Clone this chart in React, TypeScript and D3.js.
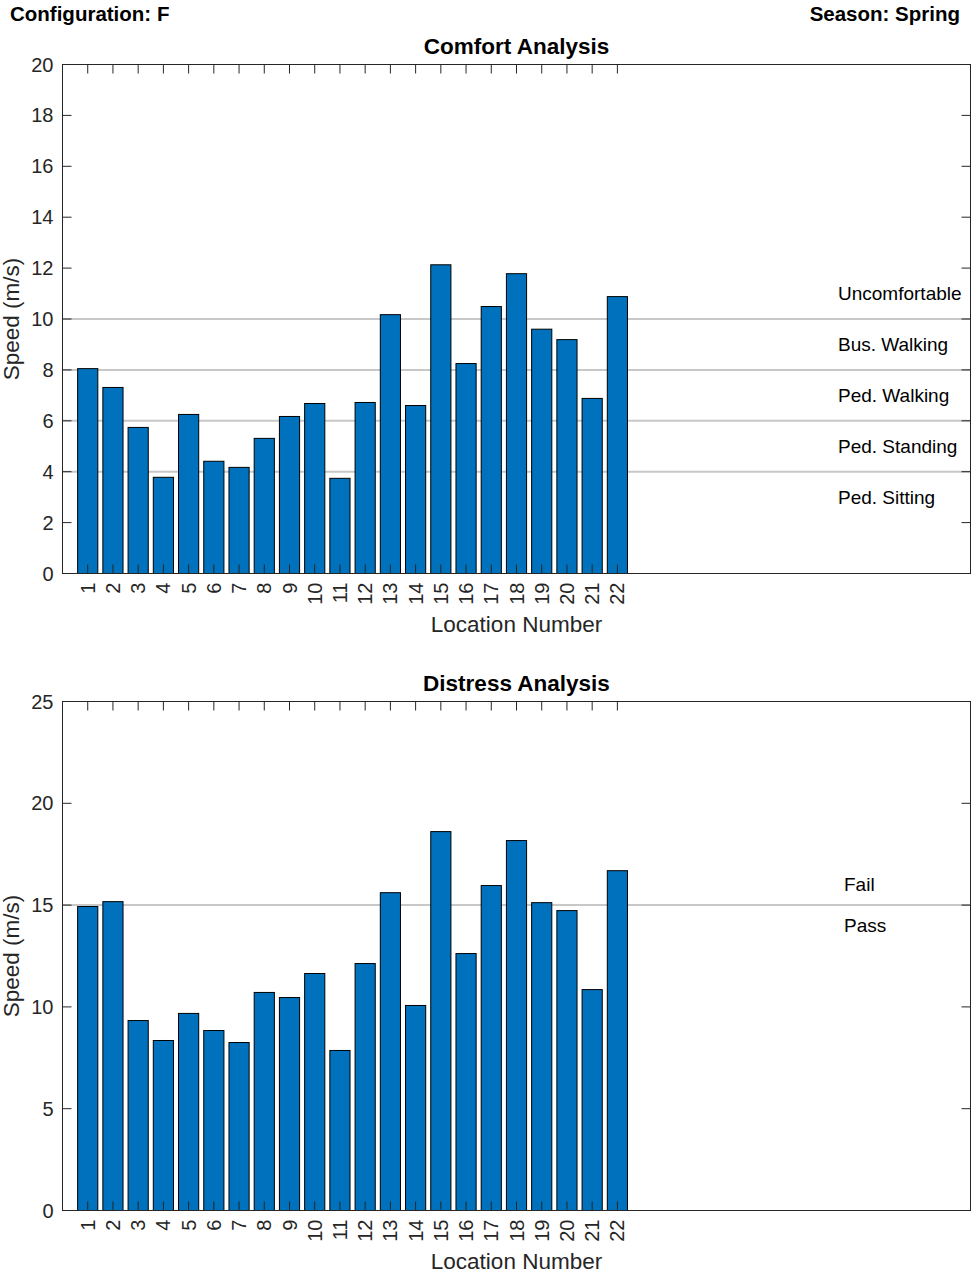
import React from "react";
import * as d3 from "d3";

const locations = d3.range(1, 23);
const comfortSpeeds = [8.05, 7.31, 5.74, 3.78, 6.25, 4.41, 4.17, 5.31, 6.17, 6.68, 3.74, 6.72, 10.17, 6.6, 12.13, 8.25, 10.49, 11.78, 9.6, 9.19, 6.88, 10.88];
const distressSpeeds = [14.93, 15.17, 9.33, 8.35, 9.68, 8.84, 8.25, 10.71, 10.46, 11.64, 7.86, 12.13, 15.61, 10.07, 18.61, 12.62, 15.96, 18.17, 15.12, 14.73, 10.85, 16.69];
const comfortThresholds = [4, 6, 8, 10];
const comfortZones = [
  { label: "Uncomfortable", value: 11 },
  { label: "Bus. Walking", value: 9 },
  { label: "Ped. Walking", value: 7 },
  { label: "Ped. Standing", value: 5 },
  { label: "Ped. Sitting", value: 3 },
];
const distressThresholds = [15];
const distressZones = [
  { label: "Fail", value: 16 },
  { label: "Pass", value: 14 },
];
const comfortTicks = d3.range(0, 21, 2);
const distressTicks = d3.range(0, 26, 5);

const FONT = "'Liberation Sans', Arial, Helvetica, sans-serif";
const AX = "#262626";
const LEFT = 62.5;
const RIGHT = 970.5;

type PanelProps = {
  top: number;
  bottom: number;
  title: string;
  values: number[];
  yMax: number;
  ticks: number[];
  thresholds: number[];
  zones: { label: string; value: number }[];
  zoneX: number;
};

function Panel({ top, bottom, title, values, yMax, ticks, thresholds, zones, zoneX }: PanelProps) {
  const x = d3.scaleLinear().domain([0, 36]).range([LEFT, RIGHT]);
  const y = d3.scaleLinear().domain([0, yMax]).range([bottom, top]);
  const bw = x(0.8) - x(0);
  const tl = 9;
  return (
    <g>
      {thresholds.map((t) => (
        <line key={"g" + t} x1={LEFT} x2={RIGHT} y1={y(t)} y2={y(t)} stroke="#c8c8c8" strokeWidth={2} />
      ))}
      {values.map((v, i) => (
        <rect
          key={i}
          x={x(locations[i]) - bw / 2}
          y={y(v)}
          width={bw}
          height={y(0) - y(v)}
          fill="#0072BD"
          stroke="#000"
          strokeWidth={1}
        />
      ))}
      <rect x={LEFT} y={top} width={RIGHT - LEFT} height={bottom - top} fill="none" stroke={AX} strokeWidth={1} />
      {locations.map((l) => (
        <g key={"xt" + l}>
          <line x1={x(l)} x2={x(l)} y1={top} y2={top + tl} stroke={AX} />
          <line x1={x(l)} x2={x(l)} y1={bottom} y2={bottom - tl} stroke={AX} />
          <text
            transform={`translate(${x(l)},${bottom + 9}) rotate(-90)`}
            textAnchor="end"
            dominantBaseline="central"
            fontSize={20}
            fontFamily={FONT}
            fill={AX}
          >
            {l}
          </text>
        </g>
      ))}
      {ticks.map((t) => (
        <g key={"yt" + t}>
          <line x1={LEFT} x2={LEFT + tl} y1={y(t)} y2={y(t)} stroke={AX} />
          <line x1={RIGHT} x2={RIGHT - tl} y1={y(t)} y2={y(t)} stroke={AX} />
          <text x={LEFT - 9} y={y(t)} textAnchor="end" dominantBaseline="central" fontSize={20} fontFamily={FONT} fill={AX}>
            {t}
          </text>
        </g>
      ))}
      {zones.map((z) => (
        <text key={z.label} x={zoneX} y={y(z.value)} dominantBaseline="central" fontSize={19} fontFamily={FONT} fill="#000">
          {z.label}
        </text>
      ))}
      <text x={(LEFT + RIGHT) / 2} y={top - 11} textAnchor="middle" fontSize={22.5} fontWeight="bold" fontFamily={FONT} fill="#000">
        {title}
      </text>
      <text x={(LEFT + RIGHT) / 2} y={bottom + 58} textAnchor="middle" fontSize={22.5} fontFamily={FONT} fill={AX}>
        Location Number
      </text>
      <text
        transform={`translate(19,${(top + bottom) / 2}) rotate(-90)`}
        textAnchor="middle"
        fontSize={22.5}
        fontFamily={FONT}
        fill={AX}
      >
        Speed (m/s)
      </text>
    </g>
  );
}

export default function App() {
  return (
    <svg width={975} height={1275} style={{ position: "absolute", left: 0, top: 0, background: "#fff" }}>
      <rect width={975} height={1275} fill="#fff" />
      <text x={10} y={21} fontSize={20.5} fontWeight="bold" fontFamily={FONT} fill="#000">
        Configuration: F
      </text>
      <text x={960} y={21} textAnchor="end" fontSize={20.5} fontWeight="bold" fontFamily={FONT} fill="#000">
        Season: Spring
      </text>
      <Panel
        top={64.5}
        bottom={573.5}
        title="Comfort Analysis"
        values={comfortSpeeds}
        yMax={20}
        ticks={comfortTicks}
        thresholds={comfortThresholds}
        zones={comfortZones}
        zoneX={838}
      />
      <Panel
        top={701.5}
        bottom={1210.5}
        title="Distress Analysis"
        values={distressSpeeds}
        yMax={25}
        ticks={distressTicks}
        thresholds={distressThresholds}
        zones={distressZones}
        zoneX={844}
      />
    </svg>
  );
}
